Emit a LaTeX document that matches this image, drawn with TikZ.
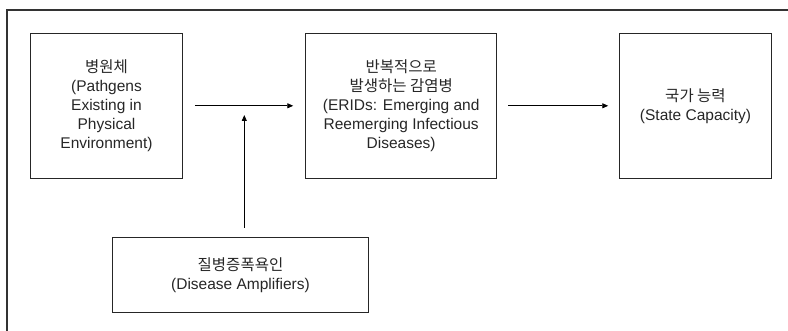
\documentclass[tikz,border=0pt]{standalone}
\usepackage{fontspec}
\setmainfont{Liberation Sans}
\newfontfamily\kr{Noto Sans CJK KR}
\usetikzlibrary{arrows.meta}
\newcommand{\ko}[1]{{\kr\fontsize{15.5}{19}\selectfont #1}}
\tikzset{
  x=1pt, y=-1pt,
  boxnode/.style={draw=black!85, line width=0.9pt, align=center, inner sep=0pt,
    font=\fontsize{15.5}{19}\selectfont, text=black!85},
  flow/.style={line width=0.9pt, draw=black, -{Triangle[length=6pt,width=5pt]}},
}
\begin{document}
\begin{tikzpicture}
\useasboundingbox (0,0) rectangle (788,331);
% outer frame (cropped)
\draw[line width=1.2pt, black!80] (7,331) -- (7,10) -- (788,10);
\node[boxnode, minimum width=151.6pt, minimum height=145pt] (pat) at (106.5,105.8)
  {\ko{병원체}\\(Pathgens\\Existing in\\Physical\\Environment)};
\node[boxnode, minimum width=191pt, minimum height=145pt] (erid) at (401.2,105.8)
  {\ko{반복적으로}\\\ko{발생하는 감염병}\\(ERIDs: Emerging and\\Reemerging Infectious\\Diseases)};
\node[boxnode, minimum width=151.6pt, minimum height=145pt] (state) at (695.5,105.8)
  {\ko{국가 능력}\\(State Capacity)};
\node[boxnode, minimum width=256.4pt, minimum height=75.4pt] (amp) at (240.5,275)
  {\ko{질병증폭욕인}\\(Disease Amplifiers)};
\coordinate (meet) at (244.3,115);
\draw[flow, shorten <=12pt, shorten >=12pt] (pat) -- (erid);
\draw[flow, shorten <=11pt, shorten >=11pt] (erid) -- (state);
\draw[flow, shorten <=9pt] (amp.north -| meet) -- (meet);
\end{tikzpicture}
\end{document}
